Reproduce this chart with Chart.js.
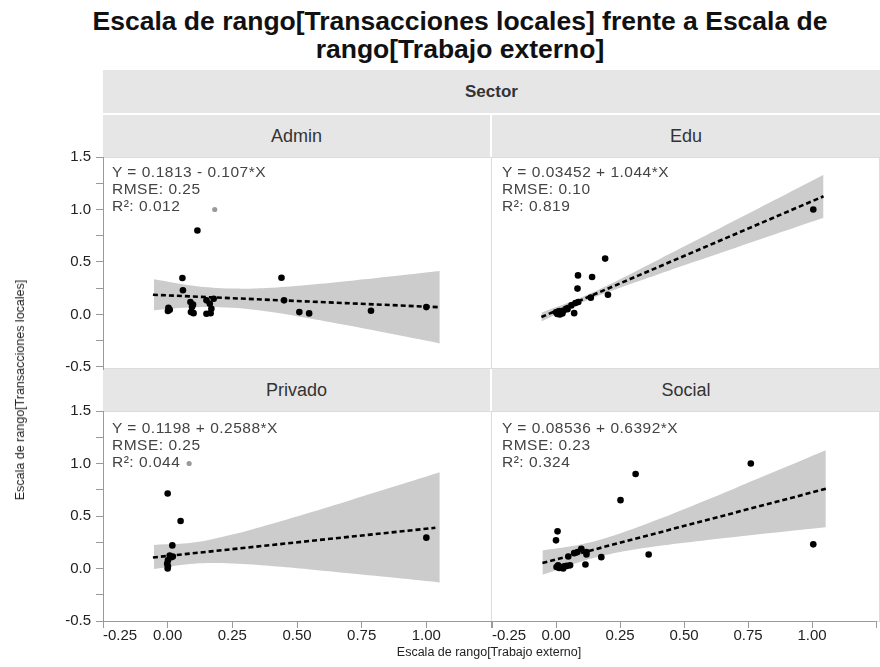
<!DOCTYPE html>
<html>
<head>
<meta charset="utf-8">
<script src="https://cdn.jsdelivr.net/npm/chart.js@4.4.1/dist/chart.umd.min.js"></script>
<style>
  body { margin: 0; background: #fff; font-family: "Liberation Sans", Arial, sans-serif; }
  #page { position: relative; width: 880px; height: 667px; overflow: hidden; }
  #page canvas { position: absolute; left: 0; top: 0; }
  .title { position: absolute; left: 20px; width: 880px; top: 7px; text-align: center; font-weight: bold; font-size: 26.5px; line-height: 28px; color: #111; }
  .strip { position: absolute; background: #e6e6e6; color: #333; font-size: 18px; display: flex; align-items: center; justify-content: center; }
  .frame { position: absolute; border: 1px solid #dcdcdc; box-sizing: border-box; }
  .note { position: absolute; font-size: 15.5px; letter-spacing: 0.5px; line-height: 16.8px; color: #444; white-space: pre; z-index: 5; }
  .axis-title { position: absolute; font-size: 12.5px; color: #222; white-space: nowrap; z-index: 5; }
</style>
</head>
<body>
<div id="page">
  <div class="title">Escala de rango[Transacciones locales] frente a Escala de<br>rango[Trabajo externo]</div>

  <div class="strip" style="left:103px; top:70px; width:777px; height:43px; font-weight:bold; font-size:17px;">Sector</div>
  <div class="strip" style="left:103px; top:115px; width:387px; height:42px;">Admin</div>
  <div class="strip" style="left:492px; top:115px; width:388px; height:42px;">Edu</div>
  <div class="strip" style="left:103px; top:369px; width:387px; height:42px;">Privado</div>
  <div class="strip" style="left:492px; top:369px; width:388px; height:42px;">Social</div>

  <div class="frame" style="left:103px; top:157px; width:389px; height:212px;"></div>
  <div class="frame" style="left:491px; top:157px; width:389px; height:212px;"></div>
  <div class="frame" style="left:103px; top:411px; width:389px; height:211px;"></div>
  <div class="frame" style="left:491px; top:411px; width:389px; height:211px;"></div>

  <canvas id="admin" width="880" height="667"></canvas>
  <canvas id="edu" width="880" height="667"></canvas>
  <canvas id="privado" width="880" height="667"></canvas>
  <canvas id="social" width="880" height="667"></canvas>

  <div class="note" style="left:112px; top:164px;">Y = 0.1813 - 0.107*X
RMSE: 0.25
R²: 0.012</div>
  <div class="note" style="left:502px; top:164px;">Y = 0.03452 + 1.044*X
RMSE: 0.10
R²: 0.819</div>
  <div class="note" style="left:112px; top:420px;">Y = 0.1198 + 0.2588*X
RMSE: 0.25
R²: 0.044</div>
  <div class="note" style="left:502px; top:420px;">Y = 0.08536 + 0.6392*X
RMSE: 0.23
R²: 0.324</div>

  <div class="axis-title" style="left:20px; top:390px; transform: translate(-50%, -50%) rotate(-90deg);">Escala de rango[Transacciones locales]</div>
  <div class="axis-title" style="left:489px; top:645px; transform: translateX(-50%);">Escala de rango[Trabajo externo]</div>
</div>

<script>
// axis ticks (shared by all four panels)
const xTicks = [-0.25, 0, 0.25, 0.5, 0.75, 1, 1.25];
const yTicks = [-0.5, -0.25, 0, 0.25, 0.5, 0.75, 1, 1.25, 1.5];

// Admin
const adminX = [0.115, 0.057, 0.440, 0.059, 0.003, 0.008, 0.001, 0.088, 0.098, 0.094, 0.090, 0.100, 0.150, 0.163, 0.178, 0.169, 0.150, 0.166, 0.450, 0.509, 0.547, 0.786, 1.000];
const adminY = [0.800, 0.347, 0.350, 0.230, 0.064, 0.045, 0.032, 0.118, 0.093, 0.070, 0.022, 0.012, 0.134, 0.102, 0.150, 0.054, 0.006, 0.012, 0.134, 0.022, 0.010, 0.035, 0.070];
const adminOutX = [0.182];
const adminOutY = [1.0];
const adminFit = [0.1813, -0.107];
const adminFitX = [-0.057, 1.045];
const adminBandX = [-0.053, 0.1, 0.25, 0.4, 0.55, 0.7, 0.85, 1.052];
const adminBandLo = [0.040, 0.069, 0.064, 0.024, -0.038, -0.106, -0.178, -0.276];
const adminBandHi = [0.335, 0.273, 0.246, 0.254, 0.282, 0.318, 0.358, 0.414];

// Edu
const eduX = [1.005, 0.192, 0.086, 0.141, 0.084, 0.203, 0.136, 0.076, 0.087, 0.060, 0.000, 0.010, 0.020, 0.030, 0.005, 0.015, 0.025, 0.071, 0.045];
const eduY = [1.000, 0.532, 0.372, 0.356, 0.246, 0.188, 0.160, 0.108, 0.118, 0.086, 0.020, 0.030, 0.025, 0.038, 0.005, 0.000, 0.010, 0.012, 0.050];
const eduFit = [0.03452, 1.044];
const eduFitX = [-0.057, 1.045];
const eduBandX = [-0.057, 0.1, 0.25, 0.4, 0.55, 0.7, 0.85, 1.045];
const eduBandLo = [-0.067, 0.114, 0.254, 0.383, 0.509, 0.633, 0.758, 0.920];
const eduBandHi = [0.017, 0.164, 0.336, 0.522, 0.709, 0.897, 1.086, 1.332];

// Privado
const privadoX = [0.000, 0.050, 0.018, 1.000, 0.008, 0.014, 0.020, 0.001, -0.002, 0.001, 0.000];
const privadoY = [0.715, 0.452, 0.220, 0.294, 0.124, 0.108, 0.115, 0.077, 0.045, 0.020, 0.000];
const privadoOutX = [0.083];
const privadoOutY = [1.0];
const privadoFit = [0.1198, 0.2588];
const privadoFitX = [-0.057, 1.035];
const privadoBandX = [-0.053, 0.1, 0.25, 0.4, 0.55, 0.7, 0.85, 1.052];
const privadoBandLo = [-0.005, 0.045, 0.047, 0.023, -0.009, -0.045, -0.082, -0.133];
const privadoBandHi = [0.225, 0.247, 0.323, 0.423, 0.533, 0.646, 0.761, 0.917];

// Social
const socialX = [0.761, 0.311, 0.252, 0.006, 0.000, 1.005, 0.362, 0.177, 0.115, 0.099, 0.119, 0.119, 0.084, 0.071, 0.048, 0.002, 0.012, 0.022, 0.032, 0.042, 0.055, 0.008, 0.028];
const socialY = [1.000, 0.900, 0.651, 0.354, 0.268, 0.230, 0.134, 0.108, 0.038, 0.188, 0.156, 0.134, 0.156, 0.146, 0.115, 0.015, 0.005, 0.010, 0.020, 0.025, 0.030, 0.030, 0.000];
const socialFit = [0.08536, 0.6392];
const socialFitX = [-0.053, 1.054];
const socialBandX = [-0.053, 0.1, 0.25, 0.4, 0.55, 0.7, 0.85, 1.054];
const socialBandLo = [-0.060, 0.067, 0.156, 0.214, 0.260, 0.301, 0.340, 0.392];
const socialBandHi = [0.172, 0.231, 0.334, 0.468, 0.615, 0.765, 0.918, 1.126];

const tickFont = { family: "Liberation Sans", size: 15 };

// the first x label sits to the right of its tick, as in the original
const firstLabelLeft = {
    id: "firstLabelLeft",
    beforeDraw(chart) {
        const s = chart.scales.x;
        if (!s.options.display) return;
        const items = s.getLabelItems();
        if (items.length) items[0].options.textAlign = "left";
    }
};

function pts(xs, ys) {
    return xs.map((x, i) => ({ x: x, y: ys[i] }));
}

function panel(id, p) {
    new Chart(document.getElementById(id), {
        type: "scatter",
        plugins: [firstLabelLeft],
        data: {
            datasets: [
                { data: pts(p.x, p.y), backgroundColor: "#000", pointRadius: 3.3, borderWidth: 0 },
                { data: pts(p.outX || [], p.outY || []), backgroundColor: "#9a9a9a", pointRadius: 2.6, borderWidth: 0 },
                {
                    type: "line",
                    data: pts(p.fitX, p.fitX.map(x => p.fit[0] + p.fit[1] * x)),
                    borderColor: "#000", borderWidth: 2.6, borderDash: [5, 3], pointRadius: 0
                },
                {
                    type: "line",
                    data: pts(p.bandX, p.bandHi),
                    fill: "+1", backgroundColor: "#cccccc",
                    borderColor: "rgba(0,0,0,0)", borderWidth: 0, pointRadius: 0, tension: 0.4
                },
                {
                    type: "line",
                    data: pts(p.bandX, p.bandLo),
                    borderColor: "rgba(0,0,0,0)", borderWidth: 0, pointRadius: 0, tension: 0.4
                }
            ]
        },
        options: {
            responsive: false,
            animation: false,
            events: [],
            layout: { padding: p.pad },
            plugins: { legend: { display: false }, tooltip: { enabled: false } },
            scales: {
                x: {
                    type: "linear", min: -0.25, max: 1.25, display: p.showX,
                    afterBuildTicks: s => { s.ticks = xTicks.map(v => ({ value: v })); },
                    afterFit: s => { s.height = p.showX ? 30 : 0; },
                    grid: { drawOnChartArea: false, tickLength: 7, color: "#9a9a9a" },
                    border: { color: "#9a9a9a" },
                    ticks: {
                        padding: -1, color: "#222", font: tickFont, maxRotation: 0, autoSkip: false,
                        callback: v => v === 1.25 ? "" : v.toFixed(2)
                    }
                },
                y: {
                    type: "linear", min: p.yMin, max: 1.5, display: p.showY,
                    afterBuildTicks: s => { s.ticks = yTicks.map(v => ({ value: v })); },
                    afterFit: s => { s.width = p.showY ? 45 : 0; },
                    grid: { drawOnChartArea: false, tickLength: 7, color: "#9a9a9a" },
                    border: { color: "#9a9a9a" },
                    ticks: {
                        padding: 5, color: "#222", font: tickFont, autoSkip: false,
                        callback: v => Math.abs(v * 2 - Math.round(v * 2)) < 1e-6 ? v.toFixed(1) : ""
                    }
                }
            }
        }
    });
}

panel("admin", {
    x: adminX, y: adminY, outX: adminOutX, outY: adminOutY,
    fit: adminFit, fitX: adminFitX, bandX: adminBandX, bandLo: adminBandLo, bandHi: adminBandHi,
    pad: { left: 58, top: 157, right: 389, bottom: 298 }, yMin: -0.52, showX: false, showY: true
});

panel("edu", {
    x: eduX, y: eduY,
    fit: eduFit, fitX: eduFitX, bandX: eduBandX, bandLo: eduBandLo, bandHi: eduBandHi,
    pad: { left: 492, top: 157, right: 0, bottom: 298 }, yMin: -0.52, showX: false, showY: false
});

panel("privado", {
    x: privadoX, y: privadoY, outX: privadoOutX, outY: privadoOutY,
    fit: privadoFit, fitX: privadoFitX, bandX: privadoBandX, bandLo: privadoBandLo, bandHi: privadoBandHi,
    pad: { left: 58, top: 411, right: 389, bottom: 16 }, yMin: -0.5, showX: true, showY: true
});

panel("social", {
    x: socialX, y: socialY,
    fit: socialFit, fitX: socialFitX, bandX: socialBandX, bandLo: socialBandLo, bandHi: socialBandHi,
    pad: { left: 492, top: 411, right: 0, bottom: 16 }, yMin: -0.5, showX: true, showY: false
});
</script>
</body>
</html>
